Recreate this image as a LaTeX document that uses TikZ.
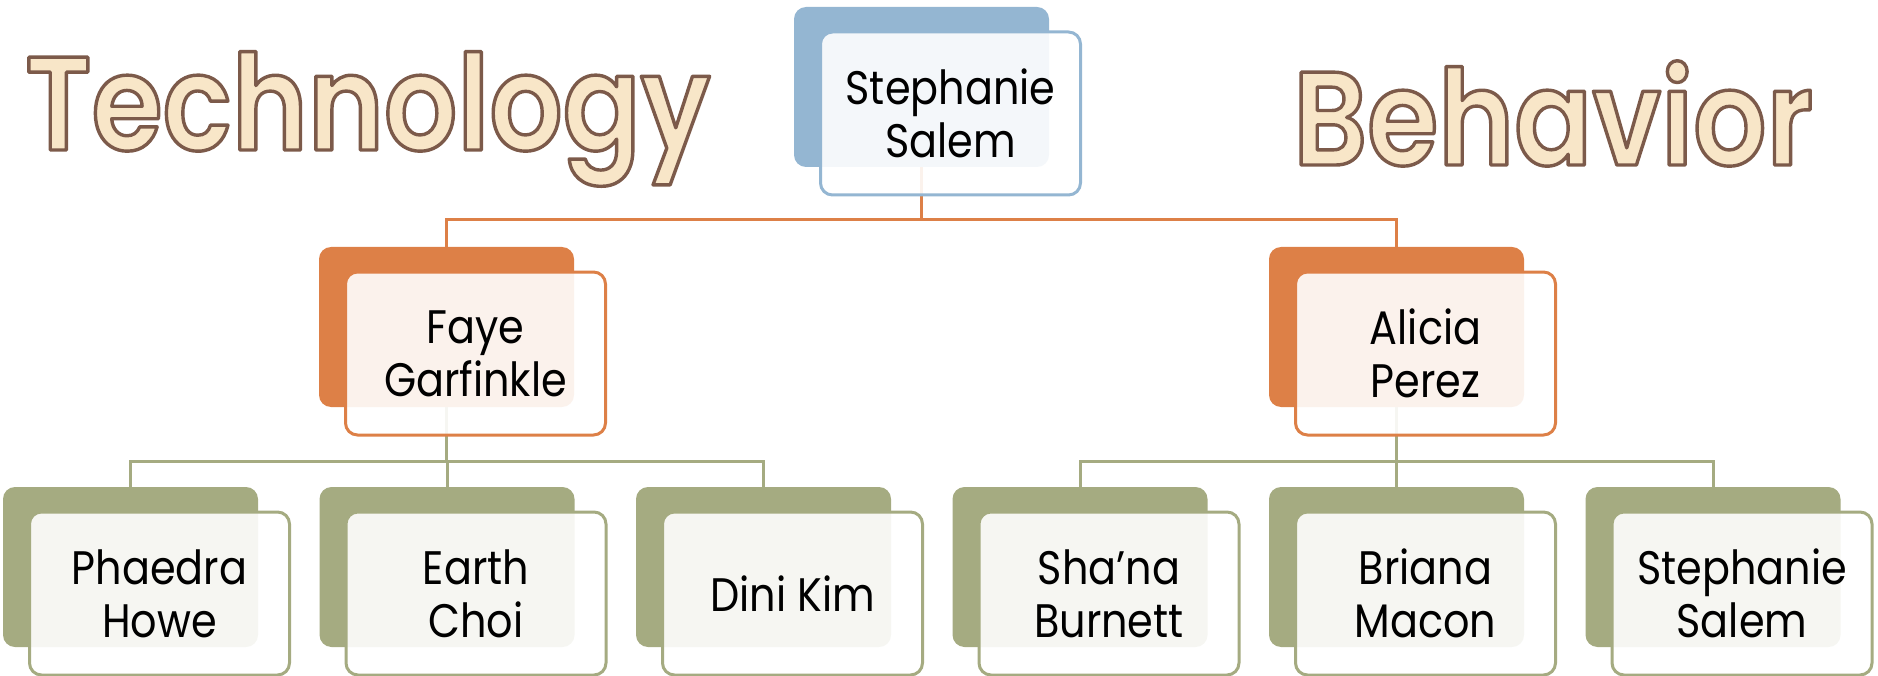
\documentclass[tikz,border=0pt]{standalone}
\usepackage{fontspec}
\setmainfont{Poppins}[FakeStretch=0.88]
\IfFontExistsTF{Poppins SemiBold}
  {\newfontfamily\headfont{Poppins SemiBold}[FakeStretch=0.865]\newcommand{\headweight}{}}
  {\newfontfamily\headfont{Poppins}[FakeStretch=0.85]\newcommand{\headweight}{\bfseries}}

\definecolor{boxblue}{HTML}{94B6D2}
\definecolor{boxorange}{HTML}{DD8047}
\definecolor{boxgreen}{HTML}{A5AB81}
\definecolor{headfill}{HTML}{F8E6C8}

% brown outline round the big words
\newcommand{\outlined}[1]{\special{pdf:literal direct 0.486 0.353 0.290 RG 2 Tr 3.4 w 1 j}#1\special{pdf:literal direct 0 Tr}}

\tikzset{
  backbox/.style={fill=#1, rounded corners=12pt, minimum width=255pt, minimum height=160pt, inner sep=0pt},
  frontbox/.style={draw=#1, line width=3pt, fill=white, fill opacity=0.9, text opacity=1,
    rounded corners=12pt, minimum width=260pt, minimum height=163pt, inner sep=0pt,
    align=center, font=\fontsize{47}{53}\selectfont},
  bus/.style={draw=#1, line width=3pt},
  heading/.style={anchor=base west, inner sep=0pt, text=headfill,
    font=\headfont\headweight\fontsize{133}{133}\selectfont}
}

\begin{document}
\begin{tikzpicture}[x=1pt,y=-1pt]
\useasboundingbox (0,0) rectangle (1878,676);
% back boxes
\node[backbox=boxblue] (ssb) at (921.5,87) {};
\node[backbox=boxorange] (fgb) at (446.5,327) {};
\node[backbox=boxorange] (apb) at (1396.5,327) {};
\node[backbox=boxgreen] (phb) at (130.5,567) {};
\node[backbox=boxgreen] (ecb) at (447,567) {};
\node[backbox=boxgreen] (dkb) at (763.5,567) {};
\node[backbox=boxgreen] (sbb) at (1080,567) {};
\node[backbox=boxgreen] (bmb) at (1396.5,567) {};
\node[backbox=boxgreen] (ss2b) at (1713,567) {};
% connectors
\draw[bus=boxorange] (ssb.south) -- ++(0,52) -| (fgb.north);
\draw[bus=boxorange] (ssb.south) -- ++(0,52) -| (apb.north);
\draw[bus=boxgreen] (fgb.south) -- ++(0,54) -| (phb.north);
\draw[bus=boxgreen] (fgb.south) -- ++(0,54) -| (ecb.north);
\draw[bus=boxgreen] (fgb.south) -- ++(0,54) -| (dkb.north);
\draw[bus=boxgreen] (apb.south) -- ++(0,54) -| (sbb.north);
\draw[bus=boxgreen] (apb.south) -- ++(0,54) -| (bmb.north);
\draw[bus=boxgreen] (apb.south) -- ++(0,54) -| (ss2b.north);
% front boxes
\node[frontbox=boxblue] (ss) at ([xshift=29pt,yshift=-26.5pt]ssb.center) {Stephanie\\Salem};
\node[frontbox=boxorange] (fg) at ([xshift=29pt,yshift=-26.5pt]fgb.center) {Faye\\Garfinkle};
\node[frontbox=boxorange] (ap) at ([xshift=29pt,yshift=-26.5pt]apb.center) {Alicia\\Perez};
\node[frontbox=boxgreen] (ph) at ([xshift=29pt,yshift=-26.5pt]phb.center) {Phaedra\\Howe};
\node[frontbox=boxgreen] (ec) at ([xshift=29pt,yshift=-26.5pt]ecb.center) {Earth\\Choi};
\node[frontbox=boxgreen] (dk) at ([xshift=29pt,yshift=-26.5pt]dkb.center) {Dini Kim};
\node[frontbox=boxgreen] (sb) at ([xshift=29pt,yshift=-26.5pt]sbb.center) {Sha’na\\Burnett};
\node[frontbox=boxgreen] (bm) at ([xshift=29pt,yshift=-26.5pt]bmb.center) {Briana\\Macon};
\node[frontbox=boxgreen] (ss2) at ([xshift=29pt,yshift=-26.5pt]ss2b.center) {Stephanie\\Salem};
% titles
\node[heading] (tech) at (25,150) {\outlined{Technology}};
\node[heading] (beh) at (1293,165) {\outlined{Behavior}};
\end{tikzpicture}
\end{document}
